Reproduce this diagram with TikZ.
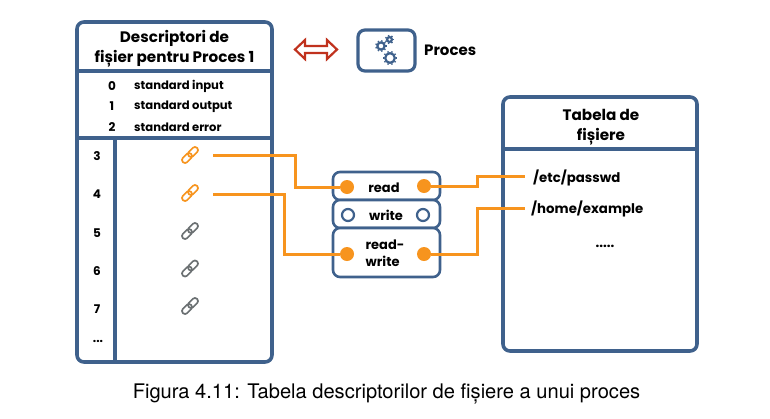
\documentclass[tikz,border=0pt]{standalone}
\usepackage{fontspec}
\setmainfont{Poppins}
\newfontfamily\capfont{TeX Gyre Heros}
\definecolor{boxblue}{HTML}{3F618C}
\definecolor{wireorange}{HTML}{F7941E}
\definecolor{arrowred}{HTML}{C0321E}
\definecolor{linkgrey}{HTML}{6B7072}
\tikzset{
  panel/.style={draw=boxblue,line width=3.6pt,rounded corners=7pt,fill=white},
  divider/.style={draw=boxblue,line width=3.6pt},
  slot/.style={draw=boxblue,line width=2.6pt,rounded corners=7pt,fill=white},
  wire/.style={draw=wireorange,line width=3pt},
  dotfull/.style={circle,fill=wireorange,minimum size=14pt,inner sep=0pt},
  dotempty/.style={circle,draw=boxblue,line width=2.2pt,fill=white,minimum size=12pt,inner sep=0pt},
  title/.style={font=\bfseries\fontsize{15.2}{20.5}\selectfont,align=center,inner sep=0pt},
  smalltext/.style={font=\bfseries\fontsize{11.6}{14}\selectfont,inner sep=0pt},
  slottext/.style={font=\bfseries\fontsize{13}{17}\selectfont,inner sep=0pt},
  filetext/.style={font=\bfseries\fontsize{13.3}{14}\selectfont,inner sep=0pt},
  numtext/.style={font=\bfseries\fontsize{12}{14}\selectfont,inner sep=0pt},
  linkicon/.pic={
    \begin{scope}[rotate=45,line width=1.7pt]
      \draw[#1,rounded corners=2.8pt] (-1.5,-3) rectangle (10,3);
      \draw[#1,rounded corners=2.8pt] (-10,-3) rectangle (1.5,3);
    \end{scope}
  }
}
\begin{document}
\begin{tikzpicture}[x=1pt,y=-1pt]
\useasboundingbox (0,0) rectangle (770,418);
% left panel
\draw[panel] (77,22) rectangle (272,362);
\draw[divider] (77,71) -- (272,71);
\draw[divider] (77,138) -- (272,138);
\draw[divider] (115,138) -- (115,362);
\node[title] (t1) at (174.5,49) {Descriptori de\\fișier pentru Proces 1};
\node[numtext] (n0) at (112,86.5) {0};
\node[numtext] (n1) at (112,106.5) {1};
\node[numtext] (n2) at (112,127) {2};
\node[smalltext,anchor=west] (s0) at (134,86.5) {standard input};
\node[smalltext,anchor=west] (s1) at (134,106.5) {standard output};
\node[smalltext,anchor=west] (s2) at (134,127) {standard error};
\node[numtext] (n3) at (97,156.5) {3};
\node[numtext] (n4) at (97,194.5) {4};
\node[numtext] (n5) at (97,233) {5};
\node[numtext] (n6) at (97,271.5) {6};
\node[numtext] (n7) at (97,309.5) {7};
\node[numtext] (n8) at (98,341) {...};
\pic at (190,155) {linkicon=wireorange};
\pic at (190,193) {linkicon=wireorange};
\pic at (190,231) {linkicon=linkgrey};
\pic at (190,268.5) {linkicon=linkgrey};
\pic at (190,306) {linkicon=linkgrey};
% process legend
\draw[arrowred,line width=2.2pt,line join=miter] (305,40) -- (295,49.5) -- (305,59) -- (305,53) -- (327,53) -- (327,59) -- (337,49.5) -- (327,40) -- (327,46) -- (305,46) -- cycle;
\draw[slot,line width=3.2pt] (358,30) rectangle (415,71);
\foreach \cx/\cy/\r/\n in {381/46/3.6/9, 389.5/39.5/2.4/7, 390/58/4.8/10}{
  \draw[boxblue,line width=2.2pt] (\cx,\cy) circle[radius=\r];
  \foreach \i in {1,...,\n}
    \draw[boxblue,line width=1.4pt] (\cx,\cy) ++({\i*360/\n}:{\r+.8}) -- ++({\i*360/\n}:1.4);
}
\node[font=\bfseries\fontsize{15}{18}\selectfont,inner sep=0pt,anchor=west] (proc) at (424,50.5) {Proces};
% slots
\draw[slot] (333,172) rectangle (440,200);
\draw[slot] (333,200) rectangle (440,228);
\draw[slot] (333,228) rectangle (440,277);
\node[slottext] (r) at (384,188) {read};
\node[slottext] (w) at (386,215.5) {write};
\node[slottext,align=left] (rw) at (385,253) {read-\\write};
\node[dotfull] (a) at (347,187) {};
\node[dotfull] (b) at (424,186) {};
\node[dotempty] (c) at (348,215) {};
\node[dotempty] (d) at (423,215) {};
\node[dotfull] (e) at (347,254) {};
\node[dotfull] (f) at (424,254) {};
% right panel
\draw[panel] (503,97) rectangle (697,351);
\draw[divider] (503,149) -- (697,149);
\node[title] (t2) at (601,127) {Tabela de\\fișiere};
\node[filetext,anchor=west] (p1) at (533,178) {/etc/passwd};
\node[filetext,anchor=west] (p2) at (531,209) {/home/example};
\node[filetext] (p3) at (605,246) {.....};
% wires
\coordinate (l3) at (213,155);
\coordinate (l4) at (213,194);
\coordinate (e1) at (525,176);
\coordinate (e2) at (525,208);
\draw[wire] (l3) -- (295,155) |- (a);
\draw[wire] (l4) -- (284,194) |- (e);
\draw[wire] (b) -- (477,186) |- (e1);
\draw[wire] (f) -- (477,254) |- (e2);
\node[font=\capfont\fontsize{20.1}{24}\selectfont,inner sep=0pt] (cap) at (386.5,394) {Figura 4.11: Tabela descriptorilor de fișiere a unui proces};
\end{tikzpicture}
\end{document}
